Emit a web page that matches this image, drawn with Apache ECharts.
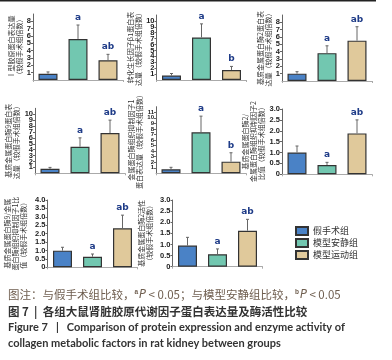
<!DOCTYPE html>
<html>
<head>
<meta charset="utf-8">
<script src="https://cdn.jsdelivr.net/npm/echarts@6/dist/echarts.min.js"></script>
<style>
html, body { margin: 0; padding: 0; background: #fff; }
#chart { width: 392px; height: 360px; }
</style>
</head>
<body>
<div id="chart"></div>
<script>
var groups = ['假手术组', '模型安静组', '模型运动组'];

// 各子图：均值、标准差、显著性标记
var col1Mean = [0.85, 5.6, 2.7],  col1Sd = [0.25, 1.9, 0.8],  col1Sig = ['', 'a', 'ab'];
var tgfMean  = [0.75, 7.2, 1.7],  tgfSd  = [0.35, 2.3, 0.6],  tgfSig  = ['', 'a', 'b'];
var mmp2Mean = [1.0, 3.8, 5.5],   mmp2Sd = [0.27, 1.0, 1.9],  mmp2Sig = ['', 'a', 'ab'];
var mmp9Mean = [0.75, 4.5, 6.8],  mmp9Sd = [0.25, 1.5, 2.2],  mmp9Sig = ['', 'a', 'ab'];
var timpMean = [0.72, 7.4, 2.1],  timpSd = [0.36, 2.9, 1.6],  timpSig = ['', 'a', 'b'];
var r2Mean   = [1.0, 0.43, 1.88], r2Sd   = [0.3, 0.12, 0.62], r2Sig   = ['', 'a', 'ab'];
var r9Mean   = [0.99, 0.63, 2.32],r9Sd   = [0.2, 0.16, 0.78], r9Sig   = ['', 'a', 'ab'];
var actMean  = [0.95, 0.56, 1.62],actSd  = [0.37, 0.24, 0.51],actSig  = ['', 'a', 'ab'];

var yMax  = [9, 11, 9, 11, 12, 3, 4, 3];
var yStep = [1, 1, 1, 1, 1, 0.5, 0.5, 0.5];
var yNames = [
  'Ⅰ型胶原蛋白表达量\n（较假手术组倍数）',
  '转化生长因子β1蛋白表\n达量（较假手术组倍数）',
  '基质金属蛋白酶2蛋白表\n达量（较假手术组倍数）',
  '基质金属蛋白酶9蛋白表\n达量（较假手术组倍数）',
  '金属蛋白酶组织抑制因子1\n蛋白表达量（较假手术组倍数）',
  '基质金属蛋白酶2/\n金属蛋白酶组织抑制因子2\n比值（较假手术组倍数）',
  '基质金属蛋白酶9/金属\n蛋白酶组织抑制因子1比\n值（较假手术组倍数）',
  '基质金属蛋白酶2活性\n（较假手术组倍数）'
];

var panels = [
  [col1Mean, col1Sd, col1Sig], [tgfMean, tgfSd, tgfSig], [mmp2Mean, mmp2Sd, mmp2Sig],
  [mmp9Mean, mmp9Sd, mmp9Sig], [timpMean, timpSd, timpSig], [r2Mean, r2Sd, r2Sig],
  [r9Mean, r9Sd, r9Sig], [actMean, actSd, actSig]
];

var colors = ['#4a82c6', '#72c7b0', '#e0c99b'];
// 子图位置 [left, top, bottom]
var boxes = [
  [33, 14, 80], [156.5, 15, 80], [282, 15, 81],
  [35, 108.3, 173.3], [156, 106.7, 173.3], [282, 109, 174.3],
  [47.5, 200, 267.3], [172.5, 200, 266.7]
];
var nameGaps = [10, 11, 9, 11, 9, 10, 14, 13];

var grids = [], xAxes = [], yAxes = [], series = [];

panels.forEach(function (p, k) {
  var b = boxes[k];
  grids.push({ left: b[0], top: b[1], width: 90, height: b[2] - b[1] });
  xAxes.push({
    type: 'category', gridIndex: k, data: groups,
    axisLine: { lineStyle: { color: '#aaa', width: 1 } },
    axisTick: { show: true, length: 2, lineStyle: { color: '#aaa' } },
    axisLabel: { show: false }
  });
  yAxes.push({
    type: 'value', gridIndex: k, min: 0, max: yMax[k], interval: yStep[k],
    name: yNames[k], nameLocation: 'middle', nameRotate: 90, nameGap: nameGaps[k] + (yStep[k] < 1 ? 6 : 0),
    nameTextStyle: { fontSize: 7, lineHeight: 8, color: '#333', fontFamily: 'Noto Sans CJK SC' },
    axisLine: { show: true, lineStyle: { color: '#666', width: 1 } },
    axisTick: { show: true, length: 2, lineStyle: { color: '#666' } },
    splitLine: { show: false },
    axisLabel: {
      fontSize: k === 4 ? 6 : 7.5, color: '#222', margin: 2, fontWeight: 'bold',
      formatter: function (v) { return yStep[k] < 1 && v !== 0 ? v.toFixed(1) : String(v); }
    }
  });
  groups.forEach(function (g, i) {
    var d = ['-', '-', '-'];
    d[i] = p[0][i];
    series.push({
      name: g, type: 'bar', xAxisIndex: k, yAxisIndex: k, data: d,
      barWidth: 19, barGap: '-100%',
      itemStyle: { color: colors[i], borderColor: '#333', borderWidth: 1.2 }
    });
  });
  series.push({
    type: 'custom', xAxisIndex: k, yAxisIndex: k,
    data: p[0].map(function (m, i) { return [i, m, p[1][i]]; }),
    z: 5,
    renderItem: function (params, api) {
      var x = api.value(0), m = api.value(1), s = api.value(2);
      var p0 = api.coord([x, m]), p1 = api.coord([x, m + s]);
      var sig = p[2][params.dataIndex];
      return {
        type: 'group',
        children: [
          { type: 'line', shape: { x1: p0[0], y1: p0[1], x2: p1[0], y2: p1[1] }, style: { stroke: '#666', lineWidth: 1 } },
          { type: 'line', shape: { x1: p1[0] - 1.5, y1: p1[1], x2: p1[0] + 1.5, y2: p1[1] }, style: { stroke: '#666', lineWidth: 1 } },
          { type: 'text', x: p1[0], y: p1[1] - 3,
            style: { text: sig, align: 'center', verticalAlign: 'bottom', fill: '#1f3c88', font: 'bold 9px "DejaVu Sans", sans-serif' } }
        ]
      };
    }
  });
});

var chart = echarts.init(document.getElementById('chart'));
chart.setOption({
  animation: false,
  backgroundColor: '#fff',
  grid: grids,
  xAxis: xAxes,
  yAxis: yAxes,
  series: series,
  legend: {
    data: groups, orient: 'vertical', left: 290, top: 221,
    itemWidth: 12, itemHeight: 8, itemGap: 2, icon: 'rect',
    textStyle: { fontSize: 9, color: '#333', fontFamily: 'Noto Sans CJK SC' }
  },
  graphic: [
    { type: 'rect', shape: { x: 0, y: 0, width: 376, height: 1.5 }, style: { fill: '#222' } },
    { type: 'text', left: 8, top: 289,
      style: {
        text: '图注：与假手术组比较，{s|a}{i|P} < 0.05；与模型安静组比较，{s|b}{i|P} < 0.05',
        font: '11.5px "Noto Sans CJK SC"', fill: '#6e5d4e',
        rich: {
          s: { fontSize: 6.5, verticalAlign: 'top', fontWeight: 'bold', fill: '#6e5d4e', padding: [0, 1, 4, 0] },
          i: { fontStyle: 'italic', fontSize: 11.5, fill: '#6e5d4e', fontFamily: 'DejaVu Sans' }
        }
      } },
    { type: 'text', left: 8, top: 306,
      style: { text: '图 7  |  各组大鼠肾脏胶原代谢因子蛋白表达量及酶活性比较', font: 'bold 11.5px "Noto Sans CJK SC"', fill: '#333' } },
    { type: 'text', left: 8, top: 322,
      style: { text: 'Figure 7   |   Comparison of protein expression and enzyme activity of', font: 'bold 11px Lato', fill: '#333' } },
    { type: 'text', left: 8, top: 338,
      style: { text: 'collagen metabolic factors in rat kidney between groups', font: 'bold 11px Lato', fill: '#333' } }
  ]
});
</script>
</body>
</html>
